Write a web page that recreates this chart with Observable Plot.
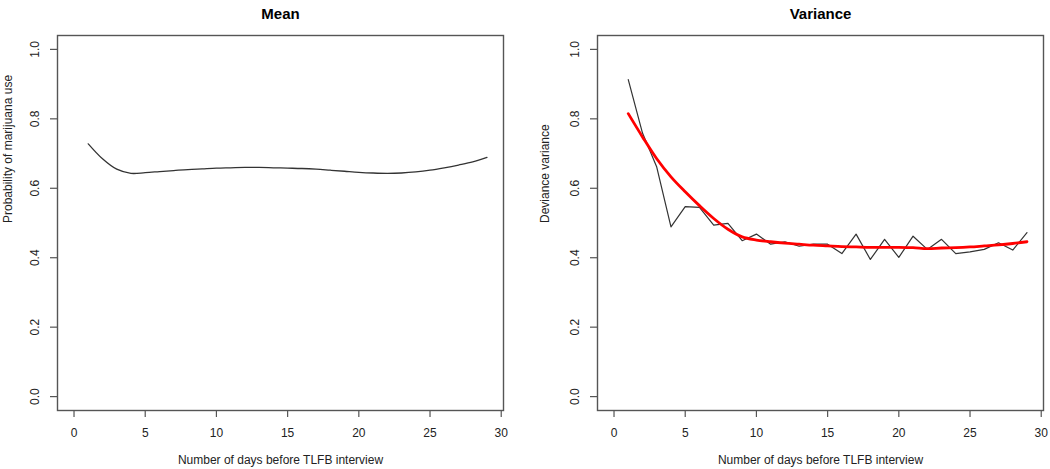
<!DOCTYPE html>
<html>
<head>
<meta charset="utf-8">
<script src="https://cdn.jsdelivr.net/npm/d3@7"></script>
<script src="https://cdn.jsdelivr.net/npm/@observablehq/plot@0.6"></script>
<style>
  html, body { margin: 0; padding: 0; background: #fff; }
  #wrap { display: flex; width: 1050px; height: 469px; }
  #wrap svg { display: block; }
</style>
</head>
<body>
<div id="wrap"></div>
<script>
// ---- data ----
const days = [1,2,3,4,5,6,7,8,9,10,11,12,13,14,15,16,17,18,19,20,21,22,23,24,25,26,27,28,29];
const meanProb = [0.728,0.685,0.655,0.643,0.645,0.648,0.651,0.654,0.656,0.658,0.659,0.660,0.660,0.659,0.658,0.657,0.655,0.652,0.649,0.646,0.644,0.643,0.644,0.647,0.652,0.659,0.667,0.676,0.689];
const devVariance = [0.913,0.759,0.661,0.489,0.547,0.545,0.494,0.499,0.449,0.468,0.439,0.446,0.433,0.439,0.439,0.412,0.468,0.395,0.453,0.401,0.462,0.424,0.453,0.412,0.417,0.424,0.443,0.422,0.472];
const devVarianceFit = [0.815,0.748,0.685,0.633,0.590,0.550,0.513,0.482,0.460,0.451,0.446,0.442,0.439,0.436,0.434,0.432,0.431,0.430,0.430,0.430,0.429,0.426,0.428,0.429,0.431,0.434,0.437,0.441,0.446];
const xTicks = [0,5,10,15,20,25,30];
const yTicks = [0,0.2,0.4,0.6,0.8,1.0];
const yTickLabels = ["0.0","0.2","0.4","0.6","0.8","1.0"];
const xTitle = "Number of days before TLFB interview";
const panels = [
  {title: "Mean", yTitle: "Probability of marijuana use"},
  {title: "Variance", yTitle: "Deviance variance"}
];

const FONT = "'Liberation Sans', Arial, Helvetica, sans-serif";
const AXIS = "#555";

function panel({title, yTitle, marginLeft, marginRight, yTitleDx, lines}) {
  return Plot.plot({
    width: 525,
    height: 469,
    marginLeft, marginRight,
    marginTop: 35,
    marginBottom: 59,
    style: {fontFamily: FONT, fontSize: "12px", color: "#222", background: "#fff"},
    x: {domain: [-1.16, 30.16], axis: null},
    y: {domain: [-0.04, 1.04], axis: null},
    marks: [
      Plot.frame({stroke: AXIS, strokeWidth: 1.4}),
      Plot.axisX(xTicks, {tickSize: 7, tickPadding: 11, stroke: AXIS, strokeWidth: 1.2, fontSize: 12, fill: "#222", label: null, tickFormat: d => String(d)}),
      Plot.axisY(yTicks, {tickSize: 7, stroke: AXIS, strokeWidth: 1.2, label: null, tickFormat: () => ""}),
      Plot.text(yTicks, {y: d => d, text: (d, i) => yTickLabels[i], frameAnchor: "left", dx: -22, rotate: -90, textAnchor: "middle", lineAnchor: "middle", fontSize: 12, fill: "#222"}),
      Plot.text([title], {text: d => d, frameAnchor: "top", dy: -27, fontSize: 15, fontWeight: "bold", fill: "#000"}),
      Plot.text([xTitle], {text: d => d, frameAnchor: "bottom", dy: 53, fontSize: 12, fill: "#222"}),
      Plot.text([yTitle], {text: d => d, frameAnchor: "left", dx: yTitleDx, rotate: -90, fontSize: 12, fill: "#222"}),
      ...lines
    ]
  });
}

const left = panel({
  title: panels[0].title, yTitle: panels[0].yTitle,
  marginLeft: 57, marginRight: 22, yTitleDx: -49,
  lines: [
    Plot.line(meanProb, {x: days, y: meanProb, curve: "catmull-rom", stroke: "#333", strokeWidth: 1.3})
  ]
});
const right = panel({
  title: panels[1].title, yTitle: panels[1].yTitle,
  marginLeft: 72, marginRight: 7, yTitleDx: -52,
  lines: [
    Plot.line(devVariance, {x: days, y: devVariance, stroke: "#333", strokeWidth: 1.2}),
    Plot.line(devVarianceFit, {x: days, y: devVarianceFit, curve: "catmull-rom", stroke: "#ff0000", strokeWidth: 2.8})
  ]
});
document.getElementById("wrap").append(left, right);
</script>
</body>
</html>
